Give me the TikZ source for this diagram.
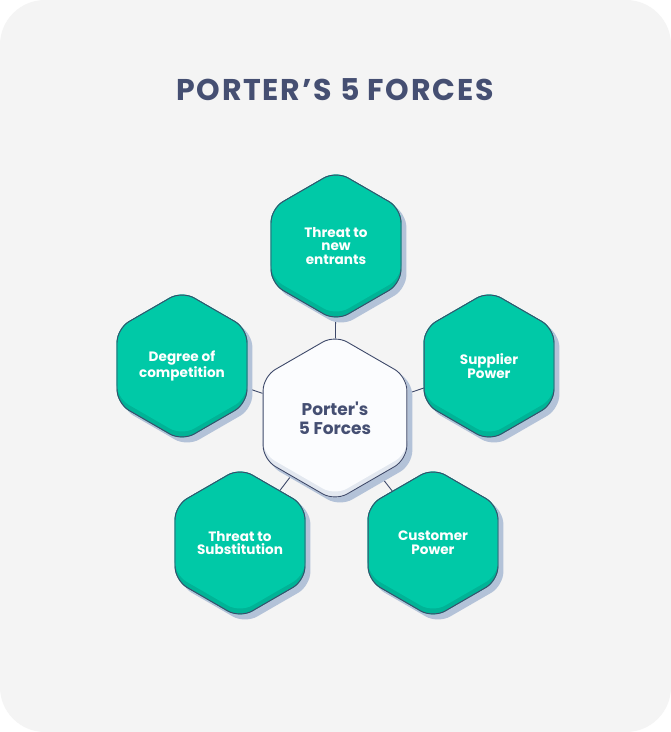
\documentclass[tikz,border=0pt]{standalone}
\usepackage{fontspec}
\setmainfont{Poppins}
\usetikzlibrary{shapes.geometric}

\definecolor{panelgrey}{HTML}{F4F4F4}
\definecolor{titlenavy}{HTML}{454F72}
\definecolor{edgenavy}{HTML}{3E4969}
\definecolor{tealface}{HTML}{00C9A7}
\definecolor{tealband}{HTML}{00B396}
\definecolor{hubface}{HTML}{FBFCFE}
\definecolor{hubband}{HTML}{E3E8F0}
\definecolor{shadowgrey}{HTML}{B3C2D8}

\pgfdeclarelayer{panel}
\pgfdeclarelayer{links}
\pgfdeclarelayer{bodies}
\pgfsetlayers{panel,links,bodies,main}

% shadow, darker bottom band and face of a hexagon node
\newcommand\hexbody[3]{%
  \fill[shadowgrey, rounded corners=14pt] ([shift={(5pt,-5pt)}]#1.corner 1)
    \foreach \k in {2,...,6} { -- ([shift={(5pt,-5pt)}]#1.corner \k) } -- cycle;
  \fill[#2, rounded corners=14pt] (#1.corner 1)
    \foreach \k in {2,...,6} { -- (#1.corner \k) } -- cycle;
  \begin{scope}
    \clip[rounded corners=14pt] (#1.corner 1)
      \foreach \k in {2,...,6} { -- (#1.corner \k) } -- cycle;
    \fill[#3, rounded corners=14pt] ([yshift=6pt]#1.corner 1)
      \foreach \k in {2,...,6} { -- ([yshift=6pt]#1.corner \k) } -- cycle;
  \end{scope}}

\tikzset{
  force/.style={regular polygon, regular polygon sides=6, shape border rotate=30,
    minimum size=150pt, inner sep=0pt, draw=edgenavy, line width=0.9pt,
    rounded corners=14pt, text=white, align=center,
    font=\bfseries\fontsize{13.6}{13.6}\selectfont},
  hub/.style={force, minimum size=166pt, text=titlenavy,
    font=\bfseries\fontsize{17}{19}\selectfont},
  link/.style={draw=edgenavy, line width=0.9pt}
}

\begin{document}
\begin{tikzpicture}[x=1pt, y=1pt]
  \useasboundingbox (0,0) rectangle (671,732);
  % ---- panel ----
  \begin{pgfonlayer}{panel}
    \fill[white] (0,0) rectangle (671,732);
    \fill[panelgrey, rounded corners=45pt] (0,0) rectangle (671,732);
  \end{pgfonlayer}
  % ---- title ----
  \node[text=titlenavy, font=\bfseries\fontsize{30}{30}\selectfont\addfontfeatures{LetterSpace=6}] (title) at (335, 642) {PORTER’S 5 FORCES};
  % ---- hexagons ----
  \node[hub]   (hub)      at (335, 314) {Porter\textquotesingle s\\5 Forces};
  \node[force] (entrants) at (336, 486) {Threat to\\new\\entrants};
  \node[force] (rivalry)  at (182, 366) {Degree of\\competition};
  \node[force] (supplier) at (489, 366) {Supplier\\Power};
  \node[force] (substit)  at (240, 189) {Threat to\\Substitution};
  \node[force] (customer) at (433, 189) {Customer\\Power};
  \begin{pgfonlayer}{bodies}
    \hexbody{hub}{hubband}{hubface}
    \foreach \f in {entrants, rivalry, supplier, substit, customer}
      {\hexbody{\f}{tealband}{tealface}}
  \end{pgfonlayer}
  % ---- links ----
  \begin{pgfonlayer}{links}
    \foreach \f in {entrants, rivalry, supplier, substit, customer}
      \draw[link] (hub.center) -- (\f.center);
  \end{pgfonlayer}
\end{tikzpicture}
\end{document}
